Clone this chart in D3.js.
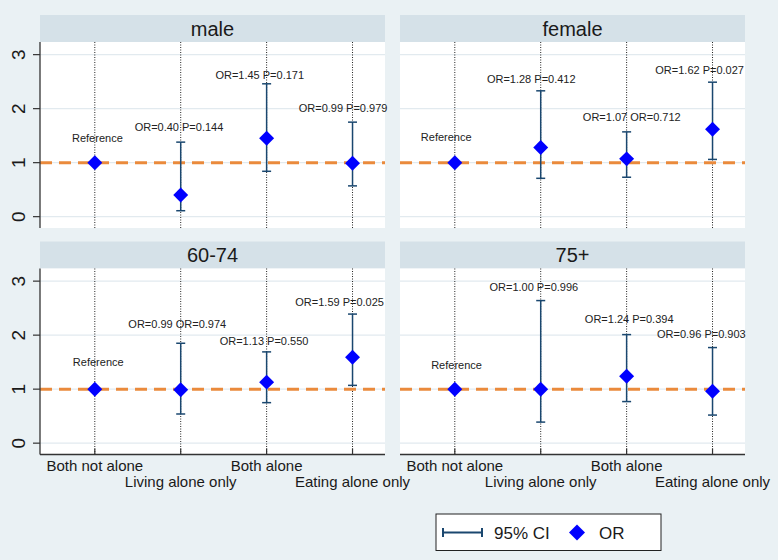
<!DOCTYPE html>
<html>
<head>
<meta charset="utf-8">
<script src="https://cdn.jsdelivr.net/npm/d3@7"></script>
<style>
  html, body { margin: 0; padding: 0; background: #eaf1f4; }
  svg { display: block; font-family: Arial, "Liberation Sans", sans-serif; }
</style>
</head>
<body>
<svg id="chart" width="778" height="560"></svg>
<script>
// ---------- data ----------
const categories = ["Both not alone", "Living alone only", "Both alone", "Eating alone only"];
const panelNames = ["male", "female", "60-74", "75+"];
const yTicks = [0, 1, 2, 3];

const orMale   = [1.00, 0.40, 1.45, 0.99];
const loMale   = [null, 0.11, 0.84, 0.57];
const hiMale   = [null, 1.38, 2.46, 1.75];
const lblMale  = ["Reference", "OR=0.40 P=0.144", "OR=1.45 P=0.171", "OR=0.99 P=0.979"];
const lblXMale = [1.03, 1.98, 2.92, 3.89];
const lblYMale = [1.46, 1.66, 2.63, 2.02];

const orFemale   = [1.00, 1.28, 1.07, 1.62];
const loFemale   = [null, 0.71, 0.73, 1.06];
const hiFemale   = [null, 2.33, 1.57, 2.49];
const lblFemale  = ["Reference", "OR=1.28 P=0.412", "OR=1.07 OR=0.712", "OR=1.62 P=0.027"];
const lblXFemale = [0.90, 1.89, 3.06, 3.85];
const lblYFemale = [1.47, 2.54, 1.84, 2.72];

const orYoung   = [1.00, 0.99, 1.13, 1.59];
const loYoung   = [null, 0.54, 0.75, 1.07];
const hiYoung   = [null, 1.85, 1.69, 2.39];
const lblYoung  = ["Reference", "OR=0.99 OR=0.974", "OR=1.13 P=0.550", "OR=1.59 P=0.025"];
const lblXYoung = [1.04, 1.96, 2.97, 3.85];
const lblYYoung = [1.51, 2.21, 1.90, 2.62];

const orOld   = [1.00, 1.00, 1.24, 0.96];
const loOld   = [null, 0.39, 0.77, 0.52];
const hiOld   = [null, 2.64, 2.01, 1.77];
const lblOld  = ["Reference", "OR=1.00 P=0.996", "OR=1.24 P=0.394", "OR=0.96 P=0.903"];
const lblXOld = [1.02, 1.92, 3.03, 3.87];
const lblYOld = [1.44, 2.89, 2.29, 2.02];

const referenceOR = 1;
const legendLabels = ["95% CI", "OR"];

// ---------- layout ----------
const svg = d3.select("#chart");
const W = 778, H = 560;
const colLeft = [40, 400];
const rowTop = [15, 241.5];
const panelW = 345, headH = 27, plotH = 186;
const navy = "#1a476f", blue = "#0000ff", orange = "#ea8a3c";
const textCol = "#1a1a1a";

const panels = [
  {name: panelNames[0], col: 0, row: 0, or: orMale, lo: loMale, hi: hiMale, lbl: lblMale, lx: lblXMale, ly: lblYMale},
  {name: panelNames[1], col: 1, row: 0, or: orFemale, lo: loFemale, hi: hiFemale, lbl: lblFemale, lx: lblXFemale, ly: lblYFemale},
  {name: panelNames[2], col: 0, row: 1, or: orYoung, lo: loYoung, hi: hiYoung, lbl: lblYoung, lx: lblXYoung, ly: lblYYoung},
  {name: panelNames[3], col: 1, row: 1, or: orOld, lo: loOld, hi: hiOld, lbl: lblOld, lx: lblXOld, ly: lblYOld}
];

svg.append("rect").attr("width", W).attr("height", H).attr("fill", "#eaf1f4");

const x = d3.scaleLinear().domain([0.362, 4.378]).range([0, panelW]);
const y = d3.scaleLinear().domain([-0.21, 3.234]).range([plotH, 0]);
const diamond = d3.symbol().type(d3.symbolSquare).size(112);

panels.forEach(p => {
  const g = svg.append("g")
    .attr("transform", `translate(${colLeft[p.col]},${rowTop[p.row]})`);

  // header strip
  g.append("rect").attr("x", 0).attr("y", 0).attr("width", panelW).attr("height", headH)
    .attr("fill", "#d5e1e8");
  g.append("text").attr("x", panelW / 2).attr("y", headH / 2 + 7)
    .attr("text-anchor", "middle").attr("font-size", 20).attr("fill", textCol)
    .text(p.name);

  const pg = g.append("g").attr("transform", `translate(0,${headH})`);
  pg.append("rect").attr("width", panelW).attr("height", plotH).attr("fill", "#ffffff");

  // grid lines
  pg.selectAll("line.grid").data(yTicks).join("line")
    .attr("class", "grid")
    .attr("x1", 0).attr("x2", panelW)
    .attr("y1", d => y(d)).attr("y2", d => y(d))
    .attr("stroke", "#e2eaef").attr("stroke-width", 1.2);

  // dotted category lines
  pg.selectAll("line.vdot").data(categories).join("line")
    .attr("class", "vdot")
    .attr("x1", (d, i) => x(i + 1)).attr("x2", (d, i) => x(i + 1))
    .attr("y1", 0).attr("y2", plotH)
    .attr("stroke", "#222").attr("stroke-width", 1).attr("stroke-dasharray", "1,1.5");

  // reference dashed line
  pg.append("line")
    .attr("x1", 0).attr("x2", panelW)
    .attr("y1", y(referenceOR)).attr("y2", y(referenceOR))
    .attr("stroke", orange).attr("stroke-width", 3).attr("stroke-dasharray", "12,7");

  // CI bars
  const ci = p.or.map((v, i) => ({i, lo: p.lo[i], hi: p.hi[i]})).filter(d => d.lo !== null);
  const cg = pg.selectAll("g.ci").data(ci).join("g").attr("class", "ci");
  cg.append("line")
    .attr("x1", d => x(d.i + 1)).attr("x2", d => x(d.i + 1))
    .attr("y1", d => y(d.lo)).attr("y2", d => y(d.hi))
    .attr("stroke", navy).attr("stroke-width", 1.5);
  ["lo", "hi"].forEach(k => {
    cg.append("line")
      .attr("x1", d => x(d.i + 1) - 4.5).attr("x2", d => x(d.i + 1) + 4.5)
      .attr("y1", d => y(d[k])).attr("y2", d => y(d[k]))
      .attr("stroke", navy).attr("stroke-width", 1.5);
  });

  // OR diamonds
  pg.selectAll("path.or").data(p.or).join("path")
    .attr("class", "or")
    .attr("d", diamond)
    .attr("transform", (d, i) => `translate(${x(i + 1)},${y(d)}) rotate(45)`)
    .attr("fill", blue);

  // labels
  pg.selectAll("text.lbl").data(p.lbl).join("text")
    .attr("class", "lbl")
    .attr("x", (d, i) => x(p.lx[i]))
    .attr("y", (d, i) => y(p.ly[i]))
    .attr("dy", "0.36em")
    .attr("text-anchor", "middle").attr("font-size", 11).attr("fill", "#222")
    .text(d => d);

  // y axis on left column
  if (p.col === 0) {
    pg.append("line").attr("x1", 0).attr("x2", 0).attr("y1", 0).attr("y2", plotH)
      .attr("stroke", "#333").attr("stroke-width", 1.3);
    pg.selectAll("line.ytick").data(yTicks).join("line")
      .attr("class", "ytick")
      .attr("x1", -7).attr("x2", 0).attr("y1", d => y(d)).attr("y2", d => y(d))
      .attr("stroke", "#333").attr("stroke-width", 1.2);
    pg.selectAll("text.ylab").data(yTicks).join("text")
      .attr("class", "ylab")
      .attr("transform", d => `translate(-15,${y(d)}) rotate(-90)`)
      .attr("text-anchor", "middle").attr("font-size", 19).attr("fill", textCol)
      .text(d => d);
  }

  // x axis on bottom row
  if (p.row === 1) {
    pg.append("line").attr("x1", 0).attr("x2", panelW).attr("y1", plotH).attr("y2", plotH)
      .attr("stroke", "#333").attr("stroke-width", 1.3);
    pg.selectAll("line.xtick").data(categories).join("line")
      .attr("class", "xtick")
      .attr("x1", (d, i) => x(i + 1)).attr("x2", (d, i) => x(i + 1))
      .attr("y1", plotH - 6).attr("y2", plotH)
      .attr("stroke", "#333").attr("stroke-width", 1.2);
    pg.selectAll("text.xlab").data(categories).join("text")
      .attr("class", "xlab")
      .attr("x", (d, i) => x(i + 1))
      .attr("y", (d, i) => plotH + (i % 2 === 0 ? 16 : 32))
      .attr("text-anchor", "middle").attr("font-size", 15).attr("fill", textCol)
      .text(d => d);
  }
});

// ---------- legend ----------
const lg = svg.append("g").attr("transform", "translate(436,514)");
lg.append("rect").attr("width", 225).attr("height", 36.5)
  .attr("fill", "#fff").attr("stroke", "#222").attr("stroke-width", 1);
const ly = 18.5;
lg.append("line").attr("x1", 7).attr("x2", 46).attr("y1", ly).attr("y2", ly)
  .attr("stroke", navy).attr("stroke-width", 2);
[7, 46].forEach(xx => lg.append("line").attr("x1", xx).attr("x2", xx)
  .attr("y1", ly - 4.5).attr("y2", ly + 4.5).attr("stroke", navy).attr("stroke-width", 2));
lg.append("text").attr("x", 58).attr("y", ly + 6).attr("font-size", 17).attr("fill", textCol)
  .text(legendLabels[0]);
lg.append("path").attr("d", d3.symbol().type(d3.symbolSquare).size(128))
  .attr("transform", `translate(141,${ly}) rotate(45)`).attr("fill", blue);
lg.append("text").attr("x", 163).attr("y", ly + 6).attr("font-size", 17).attr("fill", textCol)
  .text(legendLabels[1]);
</script>
</body>
</html>
